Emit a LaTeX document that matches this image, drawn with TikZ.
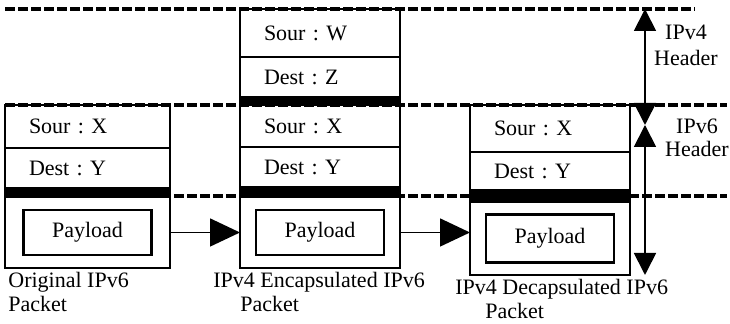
\documentclass[tikz,border=0pt]{standalone}
\usepackage{fontspec}
\setmainfont{Liberation Serif}
\usetikzlibrary{arrows.meta, positioning}
\tikzset{
	field/.style  ={rectangle, draw=black, line width=0.9pt, inner xsep=12pt, inner ysep=0pt, outer sep=0pt, align=left, text width=56pt, minimum width=80pt},
	hbar/.style   ={rectangle, draw=black, fill=black, line width=0.9pt, inner sep=0pt, outer sep=0pt, minimum width=80pt},
	paybox/.style ={rectangle, draw=black, line width=1.2pt, minimum width=64pt, minimum height=22.5pt, inner sep=0pt, align=center},
	flowarrow/.style={-{Triangle[length=15pt,width=14pt]}, line width=0.8pt},
	hdrarrow/.style ={{Triangle[length=11pt,width=11pt]}-{Triangle[length=11pt,width=11pt]}, line width=0.9pt},
	guide/.style  ={line width=1.7pt, dash pattern=on 5pt off 1.5pt},
	lbl/.style    ={inner sep=0pt, align=left, anchor=north west},
}
\begin{document}
\begin{tikzpicture}[x=0.5pt, y=-0.5pt, every node/.style={font=\fontsize{11}{12}\selectfont\frenchspacing}]
	\useasboundingbox (0,0) rectangle (730,324);
	% level guides
	\coordinate (g1a) at (5,9);   \coordinate (g1b) at (695,9);
	\coordinate (g2a) at (5,105); \coordinate (g2b) at (727,105);
	\coordinate (g3a) at (5,196); \coordinate (g3b) at (727,196);
	\draw[guide] (g1a) -- (g1b);
	\draw[guide] (g2a) -- (g2b);
	\draw[guide] (g3a) -- (g3b);
	% original IPv6 packet
	\node[field, anchor=north west, minimum width=82.5pt, text width=58.5pt, minimum height=21.5pt] (o-src) at (5,105) {Sour : X};
	\node[field, below=0pt of o-src, minimum width=82.5pt, text width=58.5pt, minimum height=20pt] (o-dst) {Dest : Y};
	\node[hbar, below=0pt of o-dst, minimum width=82.5pt, minimum height=4.5pt] (o-bar) {};
	\node[field, below=0pt of o-bar, minimum width=82.5pt, text width=58.5pt, minimum height=35.5pt] (o-pay) {};
	\node[paybox] (o-pl) at (o-pay) {Payload};
	% IPv4 encapsulated packet
	\node[field, anchor=north west, minimum height=24pt] (e-src4) at (240,9) {Sour : W};
	\node[field, below=0pt of e-src4, minimum height=20pt] (e-dst4) {Dest : Z};
	\node[hbar, below=0pt of e-dst4, minimum height=4pt] (e-bar4) {};
	\node[field, below=0pt of e-bar4, minimum height=21pt] (e-src) {Sour : X};
	\node[field, below=0pt of e-src, minimum height=20pt] (e-dst) {Dest : Y};
	\node[hbar, below=0pt of e-dst, minimum height=5pt] (e-bar) {};
	\node[field, below=0pt of e-bar, minimum height=35.5pt] (e-pay) {};
	\node[paybox] (e-pl) at (e-pay) {Payload};
	% IPv4 decapsulated packet
	\node[field, anchor=north west, minimum height=23.5pt] (d-src) at (470,105) {Sour : X};
	\node[field, below=0pt of d-src, minimum height=19pt] (d-dst) {Dest : Y};
	\node[hbar, below=0pt of d-dst, minimum height=6pt] (d-bar) {};
	\node[field, below=0pt of d-bar, minimum height=36.5pt] (d-pay) {};
	\node[paybox, minimum height=24pt] (d-pl) at (d-pay) {Payload};
	\draw[flowarrow] (o-pay.east) -- (e-pay.west);
	\draw[flowarrow] (e-pay.east) -- (e-pay.east -| d-pay.west);
	% header extents
	\coordinate (v-top) at (645,9);
	\coordinate (v-mid) at (645,125);
	\coordinate (v-bot) at (645,275);
	\draw[hdrarrow] (v-top) -- (v-mid);
	\draw[hdrarrow] (v-mid) -- (v-bot);
	\node[align=center, inner sep=0pt, font=\fontsize{11}{13}\selectfont] (h4) at (686,45) {IPv4\\Header};
	\node[align=center, inner sep=0pt, font=\fontsize{11}{11.5}\selectfont] (h6) at (697,138) {IPv6\\Header};
	% captions
	\node[lbl] (c-o) at (8,272) {Original IPv6\\Packet};
	\node[lbl] (c-e) at (213,272) {IPv4 Encapsulated IPv6\\\hspace*{13.5pt}Packet};
	\node[lbl] (c-d) at (455,279) {IPv4 Decapsulated IPv6\\\hspace*{15pt}Packet};
\end{tikzpicture}
\end{document}
